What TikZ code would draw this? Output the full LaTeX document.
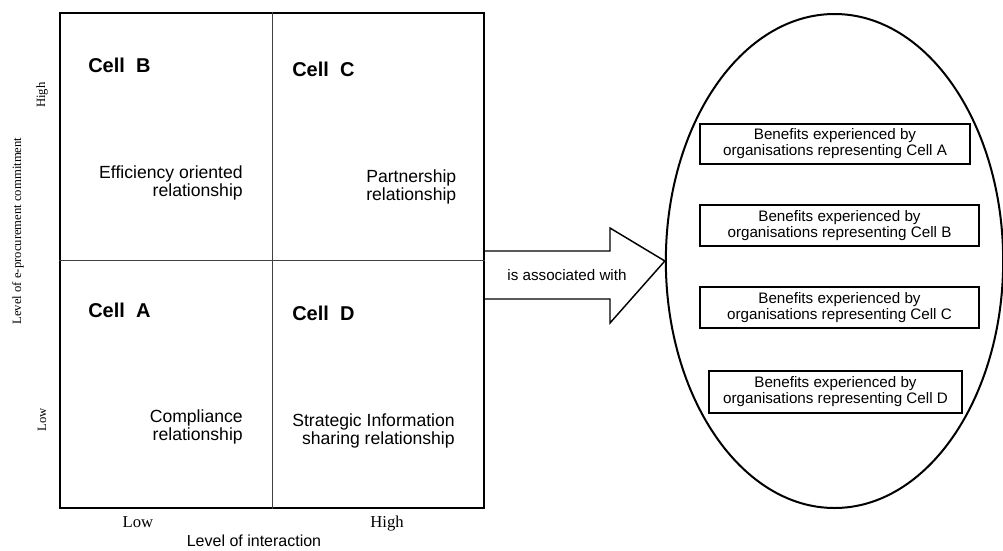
\documentclass[tikz,border=0pt]{standalone}
\usepackage{fontspec}
\setmainfont{Liberation Sans}
\newfontfamily\axisfont{Liberation Serif}
\usepackage{tikz}
\usetikzlibrary{shapes.geometric}
\tikzset{
  cellname/.style={anchor=west,inner sep=0pt,font=\fontsize{15}{18}\selectfont\bfseries},
  celltext/.style={inner sep=0pt,font=\fontsize{13.2}{13.6}\selectfont},
  benefitbox/.style={draw,line width=1.1pt,align=center,inner sep=0pt,font=\fontsize{11.4}{12}\selectfont},
  axislevel/.style={inner sep=0pt,anchor=base,font=\axisfont\fontsize{12.5}{14}\selectfont},
  sidelevel/.style={inner sep=0pt,rotate=90,font=\axisfont\fontsize{9.5}{11}\selectfont}
}

\begin{document}
\begin{tikzpicture}[x=0.75pt,y=-0.75pt]
    \useasboundingbox (0,0) rectangle (1003,550);

    \node[draw,line width=1.5pt,minimum width=318pt,minimum height=371.25pt,inner sep=0pt] (grid) at (272,260.5) {};
    \draw[line width=0.7pt,black!75] (grid.north) -- (grid.south);
    \draw[line width=0.7pt,black!75] (grid.west) -- (grid.east);

    \node[cellname] (cell-b) at (88,65)  {Cell\ \ B};
    \node[cellname] (cell-c) at (292,69) {Cell\ \ C};
    \node[cellname] (cell-a) at (88,310) {Cell\ \ A};
    \node[cellname] (cell-d) at (292,313) {Cell\ \ D};

    \node[celltext,anchor=east,align=right] (efficiency) at (243,183) {Efficiency oriented\\relationship};
    \node[celltext,anchor=west,align=left] (partnership) at (366,187) {Partnership\\relationship};
    \node[celltext,anchor=east,align=right] (compliance) at (243,427) {Compliance\\relationship};
    \node[celltext,anchor=east,align=right] (strategic) at (455,431) {Strategic Information\\sharing relationship};

    \node[axislevel] (low-x)  at (138,527) {Low};
    \node[axislevel] (high-x) at (387,527) {High};
    \node[inner sep=0pt,font=\fontsize{12}{14}\selectfont] (interaction) at (254,541) {Level of interaction};
    \node[sidelevel] (high-y) at (42,95)  {High};
    \node[sidelevel] (low-y)  at (42,420) {Low};
    \node[sidelevel] (commitment) at (18,231) {Level of e-procurement commitment};

    \node[draw,ellipse,line width=1.5pt,minimum width=253pt,minimum height=370.5pt,inner sep=0pt] (benefits) at (834.5,261) {};

    \draw[line width=1.1pt,line join=miter] (grid.east |- 0,251) -- (610,251) -- (610,228) -- (benefits.west) -- (610,323) -- (610,299) -- (grid.east |- 0,299);
    \node[inner sep=0pt,font=\fontsize{11.4}{12}\selectfont] (associated) at (567,275) {is associated with};

    \node[benefitbox,minimum width=202.5pt,minimum height=30pt] (ben-a) at (835,144)   {Benefits experienced by\\organisations representing Cell A};
    \node[benefitbox,minimum width=209pt,minimum height=30.75pt] (ben-b) at (839.5,225.5) {Benefits experienced by\\organisations representing Cell B};
    \node[benefitbox,minimum width=209pt,minimum height=30.75pt] (ben-c) at (839.5,307.5) {Benefits experienced by\\organisations representing Cell C};
    \node[benefitbox,minimum width=190pt,minimum height=31.5pt] (ben-d) at (835.5,392)   {Benefits experienced by\\organisations representing Cell D};
\end{tikzpicture}
\end{document}
